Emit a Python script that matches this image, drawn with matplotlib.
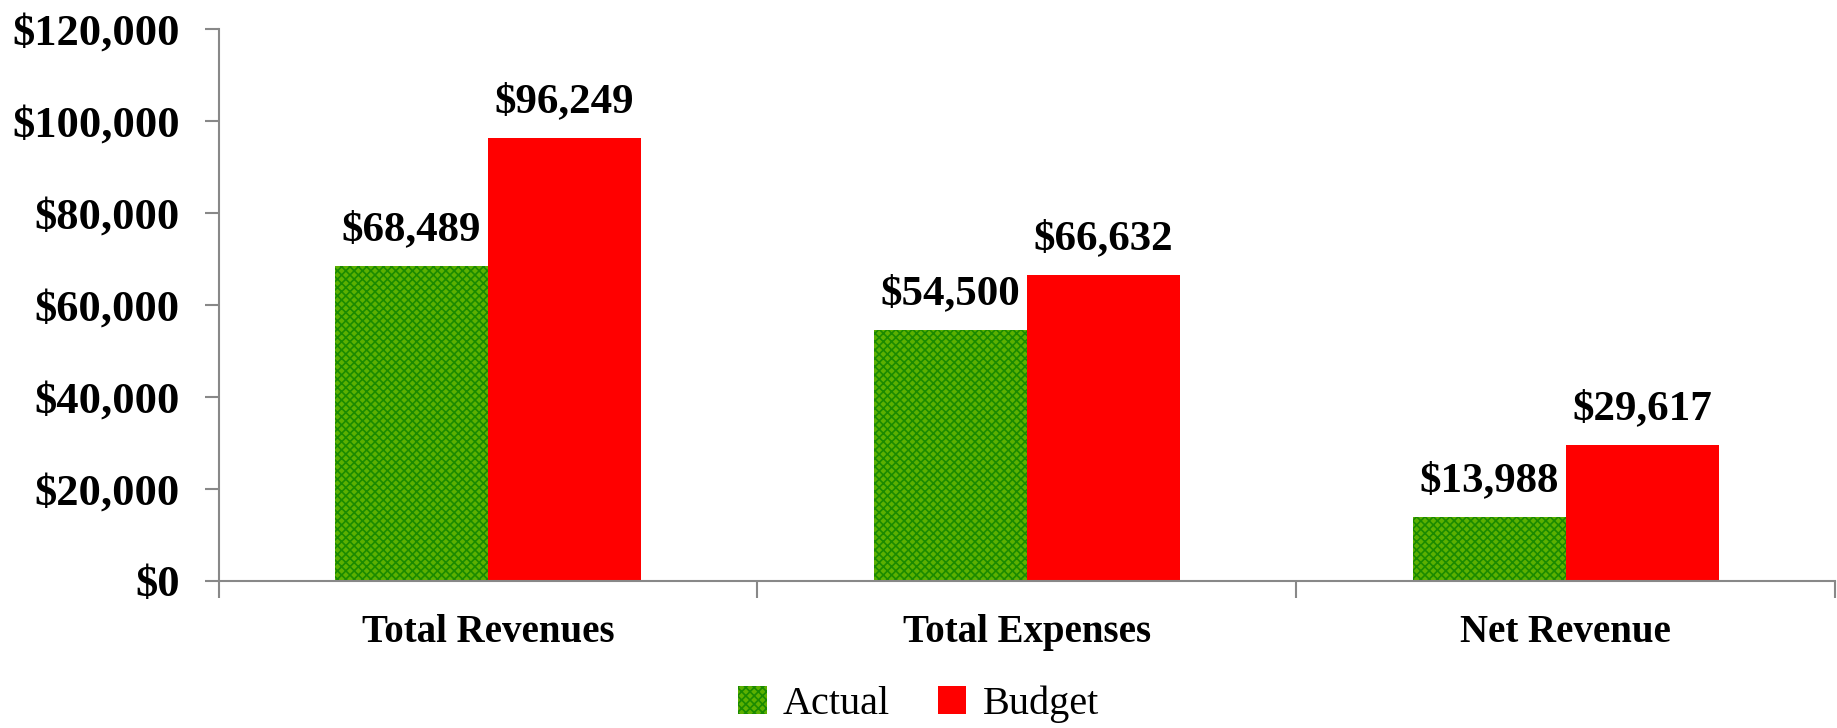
import matplotlib
matplotlib.use("Agg")
import matplotlib.pyplot as plt
import numpy as np

# chart values
categories = ["Total Revenues", "Total Expenses", "Net Revenue"]
actual = [68489, 54500, 13988]
budget = [96249, 66632, 29617]
series_names = ["Actual", "Budget"]

plt.rcParams["font.family"] = ["Liberation Serif", "DejaVu Serif"]
plt.rcParams["hatch.linewidth"] = 1.2

fig = plt.figure(figsize=(18.37, 7.28), dpi=100)
ax = fig.add_axes([0.119, 0.202, 0.880, 0.758])

x = np.arange(len(categories))
w = 0.284
b1 = ax.bar(x - w / 2, actual, w, facecolor="#5cb000", edgecolor="#1a8a00",
            hatch="xxxx", linewidth=0, label=series_names[0])
b2 = ax.bar(x + w / 2, budget, w, color="#ff0000", linewidth=0,
            label=series_names[1])

for bars in (b1, b2):
    for r in bars:
        v = r.get_height()
        ax.annotate("${:,.0f}".format(v), (r.get_x() + r.get_width() / 2, v),
                    xytext=(0, 12), textcoords="offset points",
                    ha="center", va="bottom", fontsize=31, fontweight="bold")

ax.set_xlim(-0.5, 2.5)
ax.set_ylim(0, 120000)
ax.set_yticks(np.arange(0, 120001, 20000))
ax.set_yticklabels(["${:,.0f}".format(t) for t in np.arange(0, 120001, 20000)],
                   fontsize=32, fontweight="bold")
ax.set_xticks([-0.5, 0.5, 1.5, 2.5])
ax.set_xticklabels([])
ax.set_xticks(x, minor=True)
ax.set_xticklabels(categories, minor=True, fontsize=28, fontweight="bold")
ax.tick_params(axis="x", which="minor", length=0, pad=24)
ax.tick_params(axis="x", which="major", length=12, color="#888888", width=1.5,
               direction="out")
ax.tick_params(axis="y", length=10, color="#888888", width=1.5, pad=18)

for s in ("top", "right"):
    ax.spines[s].set_visible(False)
for s in ("left", "bottom"):
    ax.spines[s].set_color("#888888")
    ax.spines[s].set_linewidth(1.5)

leg = fig.legend(loc="center", bbox_to_anchor=(0.5, 0.032), ncol=2, frameon=False,
                 fontsize=29, handlelength=0.7, handleheight=0.7,
                 handletextpad=0.4, columnspacing=1.2)

fig.savefig("out.png", dpi=100)
